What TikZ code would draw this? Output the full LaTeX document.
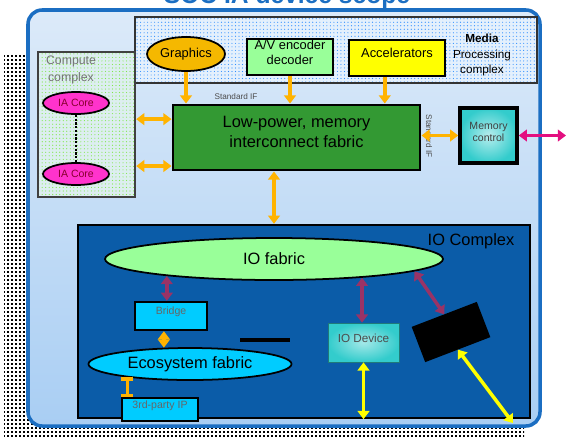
\documentclass[tikz,border=0pt]{standalone}
\usepackage{fontspec}
\setmainfont{Liberation Sans}
\usepackage{xcolor}
\usetikzlibrary{shapes,arrows.meta,positioning,calc,fit,patterns}

\definecolor{socblue}{HTML}{1B6EC2}
\definecolor{soctop}{HTML}{DCEAF9}
\definecolor{socbot}{HTML}{A9CEF3}
\definecolor{iocolor}{HTML}{0B5CA8}
\definecolor{fabgreen}{HTML}{339933}
\definecolor{lightgreen}{HTML}{99FF99}
\definecolor{gfxorange}{HTML}{F5B800}
\definecolor{arrorange}{HTML}{FFB300}
\definecolor{accyellow}{HTML}{FFFF00}
\definecolor{linkpurple}{HTML}{993366}
\definecolor{memteal}{HTML}{33CCCC}
\definecolor{ecocyan}{HTML}{00CCFF}
\definecolor{coremagenta}{HTML}{FF33CC}
\definecolor{dotblue}{HTML}{2F8FFF}
\definecolor{dotgreen}{HTML}{7FE84A}
\definecolor{mediabg}{HTML}{E4F0FC}
\definecolor{computebg}{HTML}{DDEEF0}

\pgfdeclarepatternformonly{finechecker}{\pgfpointorigin}{\pgfqpoint{3pt}{3pt}}{\pgfqpoint{3pt}{3pt}}{%
  \pgfpathrectangle{\pgfpointorigin}{\pgfqpoint{1.8pt}{1.8pt}}\pgfusepath{fill}}

\begin{document}
\begin{tikzpicture}[x=0.03cm, y=-0.03cm,
  >={Triangle[length=7pt,width=10pt]},
  box/.style={rectangle, draw=black, line width=1.5pt, inner sep=0pt, align=center},
  blob/.style={ellipse, draw=black, line width=1.5pt, inner sep=0pt, align=center},
  orlink/.style={arrorange, line width=3pt},
  purplink/.style={linkpurple, line width=3pt},
  yellink/.style={accyellow, line width=3pt},
  maglink/.style={magenta!80!purple, line width=3pt},
  note/.style={font=\fontsize{7}{8}\selectfont, text=black!70}]

\clip (0,0) rectangle (567,437);

% shadow and outer frame
\fill[pattern=finechecker, pattern color=black] (4,55) rectangle (524,445);
\draw[socblue, line width=3pt, rounded corners=12pt, top color=soctop, bottom color=socbot] (28,10) rectangle (540,426);

\node[anchor=base, text=socblue, font=\fontsize{21}{24}\selectfont\bfseries] (title) at (287,3) {SOC IA device scope};

% media processing complex
\node[box, draw=black!80, line width=2pt, preaction={fill=mediabg}, pattern=dots, pattern color=dotblue, fit={(135,17) (537,83)}] (media) {};
\node[align=center, font=\fontsize{10}{13.5}\selectfont] (medialbl) at (482,55) {\textbf{Media}\\Processing\\complex};

\node[blob, fill=gfxorange, minimum width=2.34cm, minimum height=1.02cm, font=\fontsize{11}{13}\selectfont] (gfx) at (186,54) {Graphics};
\node[box, fill=lightgreen, fit={(247,39) (333,75)}, font=\fontsize{11}{13}\selectfont] (avcodec) {A/V encoder\\decoder};
\node[box, fill=accyellow, fit={(349,40) (445,76)}, font=\fontsize{11}{13}\selectfont] (accel) {Accelerators};

% compute complex
\node[box, draw=black!75, line width=2pt, preaction={fill=computebg}, pattern=dots, pattern color=dotgreen, fit={(38,52) (135,197)}] (compute) {};
\node[align=center, text=black!55, font=\fontsize{10.5}{14}\selectfont] (computelbl) at (71,70) {Compute\\complex};
\node[blob, fill=coremagenta, minimum width=1.98cm, minimum height=0.66cm, text=purple!70!black, font=\fontsize{9}{10}\selectfont] (coreA) at (76,103) {IA Core};
\node[blob, fill=coremagenta, minimum width=1.98cm, minimum height=0.66cm, text=purple!70!black, font=\fontsize{9}{10}\selectfont] (coreB) at (76,174) {IA Core};
\draw[line width=2pt, dash pattern=on 2pt off 1.2pt] (coreA) -- (coreB);

% interconnect fabric and memory
\node[box, fill=fabgreen, line width=2.5pt, fit={(173,105) (420,170)}, font=\fontsize{14}{17}\selectfont] (fabric) {Low-power, memory\\interconnect fabric};
\node[note] (stdif) at (236,97) {Standard IF};
\node[note, rotate=-90] (stdifside) at (429,136) {Standard IF};
\node[box, line width=3pt, shading=radial, inner color=memteal!35!white, outer color=memteal, fit={(460,108) (517,163)}, font=\fontsize{9}{11}\selectfont, text=black!75] (memctl) {Memory\\control};
\coordinate (offpage) at (566,136);

% IO complex
\node[box, fill=iocolor, line width=2pt, fit={(78,225) (530,418)}] (iocx) {};
\node[font=\fontsize{14}{16}\selectfont] (iolbl) at (471,241) {IO Complex};
\node[blob, fill=lightgreen, minimum width=10.14cm, minimum height=1.26cm, font=\fontsize{14}{16}\selectfont] (iofab) at (274,259) {IO fabric};
\node[box, fill=ecocyan, line width=2pt, fit={(135,302) (207,330)}, font=\fontsize{9}{11}\selectfont, text=black!60] (bridge) {Bridge};
\node[blob, fill=ecocyan, minimum width=6.09cm, minimum height=0.96cm, font=\fontsize{14}{16}\selectfont] (ecofab) at (190,364) {Ecosystem fabric};
\node[box, fill=ecocyan, fit={(122,398) (198,421)}, font=\fontsize{9}{11}\selectfont, text=black!60] (thirdip) {3rd-party IP};
\node[box, line width=0.6pt, draw=memteal!60!black, shading=radial, inner color=memteal!45!white, outer color=memteal, fit={(328,323) (399,362)}, font=\fontsize{10}{12}\selectfont, text=black!70] (iodev) {IO Device};
\node[box, fill=black, rotate=21, minimum width=2.04cm, minimum height=1.08cm] (blackbox) at (451,332) {};
\coordinate (ioport) at (513,423);
\draw[line width=3pt] (240,340) -- (290,340);

% connectors
\coordinate (accelport) at ($(accel.south west)!0.375!(accel.south east)$);
\coordinate (fabA) at ($(fabric.north west)!0.23!(fabric.south west)$);
\coordinate (fabB) at ($(fabric.north west)!0.92!(fabric.south west)$);
\draw[orlink, ->] (gfx.south) -- (gfx.south |- fabric.north);
\draw[orlink, ->] (avcodec.south) -- (avcodec.south |- fabric.north);
\draw[orlink, ->] (accelport) -- (accelport |- fabric.north);
\draw[orlink, <->] (compute.east |- fabA) -- (fabA);
\draw[orlink, <->] (compute.east |- fabB) -- (fabB);
\draw[orlink, <->] (memctl.west -| fabric.east) -- (memctl.west);
\draw[maglink, <->] (memctl.east) -- (memctl.east -| offpage);
\draw[orlink, <->] (iofab.north |- fabric.south) -- (iofab.north |- iocx.north);

\draw[purplink, <->] (iofab.189) -- (iofab.189 |- bridge.north);
\draw[purplink, <->] (iofab.-12.4) -- (iofab.-12.4 |- iodev.north);
\draw[purplink, <->] (iofab.-5) -- (blackbox.north);
\draw[orlink, <->] (bridge.south -| ecofab.148.2) -- (ecofab.148.2);
\draw[orlink, {Bar[width=10pt]}-{Bar[width=10pt]}] (ecofab.192.7) -- (ecofab.192.7 |- thirdip.north);
\draw[yellink, <->] (iodev.south) -- (iodev.south |- iocx.south);
\draw[yellink, <->] (blackbox.south) -- (ioport);

\end{tikzpicture}
\end{document}
